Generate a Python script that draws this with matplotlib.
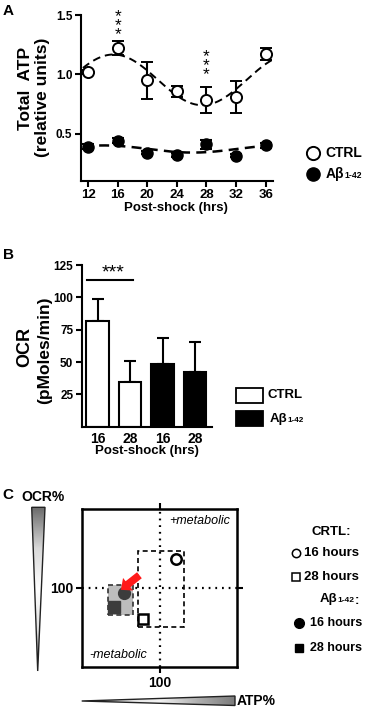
import numpy as np
import matplotlib
matplotlib.use('Agg')
import matplotlib.pyplot as plt
from matplotlib.patches import Rectangle, Polygon
from matplotlib.colors import LinearSegmentedColormap

plt.rcParams['font.family'] = ['Liberation Sans', 'DejaVu Sans']
plt.rcParams['font.weight'] = 'bold'

# ---------------- data ----------------
# Panel A: total ATP (relative units)
hours = [12, 16, 20, 24, 28, 32, 36]
atp_ctrl = [1.02, 1.22, 0.95, 0.855, 0.78, 0.81, 1.17]
atp_ctrl_err = [0.02, 0.06, 0.155, 0.05, 0.11, 0.135, 0.05]
atp_abeta = [0.39, 0.44, 0.34, 0.32, 0.41, 0.315, 0.40]
atp_abeta_err = [0.02, 0.02, 0.015, 0.015, 0.04, 0.015, 0.02]
atp_yticks = [0.5, 1.0, 1.5]
sig_hours_a = [16, 28]
sig_star_top = [1.55, 1.21]
fit_period = 24.0

# Panel B: OCR
ocr_labels = ['16', '28', '16', '28']
ocr_values = [82, 34.5, 48.5, 42.5]
ocr_err = [16.5, 16.5, 20, 23]
ocr_colors = ['white', 'white', 'black', 'black']
ocr_yticks = [25, 50, 75, 100, 125]
ocr_sig_pair = [0, 1]
ocr_sig_level = 113.6

# Panel C: metabolic map (percent of reference)
c_names = ['CTRL 16', 'CTRL 28', 'Ab 16', 'Ab 28']
c_atp = [121, 78, 54, 41]
c_ocr = [137, 61, 93, 76]
c_ctrl_box = [72, 50, 132, 147]   # x0, y0, x1, y1
c_abeta_box = [33, 66, 66, 103]

W, H = 367, 710
fig = plt.figure(figsize=(W / 100, H / 100), dpi=100)


def rect(l, t, r, b):
    return [l / W, 1 - b / H, (r - l) / W, (b - t) / H]


LW = 1.5

# ---------------- Panel A ----------------
axA = fig.add_axes(rect(80.7, 15, 273, 181))
axA.set_xlim(11, 37)
axA.set_ylim(0.1, 1.5)
for s in ['top', 'right']:
    axA.spines[s].set_visible(False)
for s in ['left', 'bottom']:
    axA.spines[s].set_linewidth(LW)
axA.set_xticks(hours)
axA.set_xticklabels([str(h) for h in hours], fontsize=9.5, fontweight='bold')
axA.set_yticks(atp_yticks)
axA.set_yticklabels(['%.1f' % v for v in atp_yticks], fontsize=8.5, fontweight='bold')
axA.tick_params(direction='out', length=4, width=LW, pad=2)


def cosinor(t, y, tt):
    t = np.asarray(t, float)
    X = np.column_stack([np.ones_like(t), np.cos(2 * np.pi * t / fit_period), np.sin(2 * np.pi * t / fit_period)])
    coef, *_ = np.linalg.lstsq(X, np.asarray(y, float), rcond=None)
    XX = np.column_stack([np.ones_like(tt), np.cos(2 * np.pi * tt / fit_period), np.sin(2 * np.pi * tt / fit_period)])
    return XX @ coef


tt = np.linspace(11.3, 37, 300)
axA.plot(tt, cosinor(hours, atp_ctrl, tt), color='black', lw=1.4, ls=(0, (4, 2.5)), zorder=2)
axA.plot(tt, cosinor(hours, atp_abeta, tt), color='black', lw=1.8, ls=(0, (4, 2.5)), zorder=2)

axA.errorbar(hours, atp_ctrl, yerr=atp_ctrl_err, fmt='o', ms=8, mfc='white', mec='black', mew=1.4,
             ecolor='black', elinewidth=1.5, capsize=4.5, capthick=1.5, zorder=3)
axA.errorbar(hours, atp_abeta, yerr=atp_abeta_err, fmt='o', ms=8, mfc='black', mec='black',
             ecolor='black', elinewidth=1.5, capsize=4.5, capthick=1.5, zorder=3)

for h, top in zip(sig_hours_a, sig_star_top):
    axA.text(h, top, '*\n*\n*', ha='center', va='top', fontsize=12.5, fontweight='normal',
             linespacing=0.5)

# ---------------- Panel B ----------------
axB = fig.add_axes(rect(81.7, 265, 212, 426.7))
axB.set_xlim(-0.49, 3.52)
axB.set_ylim(0, 125)
for s in ['top', 'right']:
    axB.spines[s].set_visible(False)
for s in ['left', 'bottom']:
    axB.spines[s].set_linewidth(LW)
xb = np.arange(len(ocr_values))
axB.bar(xb, ocr_values, width=0.69, color=ocr_colors, edgecolor='black', linewidth=LW, zorder=2)
axB.errorbar(xb, ocr_values, yerr=[np.zeros(len(ocr_err)), ocr_err], fmt='none', ecolor='black',
             elinewidth=1.5, capsize=4, capthick=1.5, zorder=1)
axB.set_yticks(ocr_yticks)
axB.set_yticklabels([str(v) for v in ocr_yticks], fontsize=8.5, fontweight='bold')
axB.set_xticks(xb)
axB.set_xticklabels(ocr_labels, fontsize=10, fontweight='bold')
axB.tick_params(axis='y', direction='out', length=4, width=LW, pad=2)
axB.tick_params(axis='x', length=0, pad=4)
axB.set_xlabel('Post-shock (hrs)', fontsize=9.5, fontweight='bold', labelpad=-1)
axB.plot([ocr_sig_pair[0] - 0.34, ocr_sig_pair[1] + 0.1], [ocr_sig_level, ocr_sig_level],
         color='black', lw=LW, clip_on=False)
axB.text(np.mean(ocr_sig_pair) - 0.03, 125.5, '***', ha='center', va='top',
         fontsize=14, fontweight='normal')

# ---------------- Panel C ----------------
axC = fig.add_axes(rect(82.3, 509, 236.7, 666.7))
axC.set_xlim(0, 200)
axC.set_ylim(0, 200)
for s in axC.spines.values():
    s.set_linewidth(1.8)
axC.set_xticks([100])
axC.set_yticks([100])
axC.set_xticklabels(['100'], fontsize=10, fontweight='bold')
axC.set_yticklabels(['100'], fontsize=10, fontweight='bold')
axC.tick_params(direction='out', length=4.5, width=LW, top=True, right=True, pad=2)
axC.axvline(100, color='black', lw=1.6, ls=(0, (0.8, 2.2)), zorder=1)
axC.axhline(100, color='black', lw=1.6, ls=(0, (0.8, 2.2)), zorder=1)

x0, y0, x1, y1 = c_ctrl_box
axC.add_patch(Rectangle((x0, y0), x1 - x0, y1 - y0, fill=False, ec='black', lw=1.2,
                        ls=(0, (3, 2)), zorder=2))
x0, y0, x1, y1 = c_abeta_box
axC.add_patch(Rectangle((x0, y0), x1 - x0, y1 - y0, fc='#bdbdbd', ec='#333333', lw=1.2,
                        ls=(0, (3, 2)), zorder=2))
axC.plot(c_atp[0], c_ocr[0], 'o', ms=7.5, mfc='white', mec='black', mew=1.8, zorder=4)
axC.plot(c_atp[1], c_ocr[1], 's', ms=7, mfc='white', mec='black', mew=1.8, zorder=4)
axC.plot(c_atp[2], c_ocr[2], 'o', ms=8.5, mfc='#3c3c3c', mec='#3c3c3c', zorder=4)
axC.plot(c_atp[3], c_ocr[3], 's', ms=8.5, mfc='#3c3c3c', mec='#3c3c3c', zorder=4)
axC.annotate('', xy=(50, 97.5), xytext=(74, 116),
             arrowprops=dict(arrowstyle='simple,head_length=0.65,head_width=1.15,tail_width=0.55',
                             color='#ff1a1a', lw=0, shrinkA=0, shrinkB=0), zorder=5)
axC.text(152, 185, '+metabolic', ha='center', va='center', fontsize=9, style='italic', fontweight='normal')
axC.text(47, 14.5, '-metabolic', ha='center', va='center', fontsize=9, style='italic', fontweight='normal')

# ---------------- overlay (pixel coords) ----------------
ov = fig.add_axes([0, 0, 1, 1], zorder=10)
ov.set_xlim(0, W)
ov.set_ylim(H, 0)
ov.axis('off')
ov.patch.set_alpha(0)

# panel letters
for lab, (x, y) in zip('ABC', [(8, 11), (8, 255), (8, 495)]):
    ov.text(x, y, lab, ha='center', va='center', fontsize=11, fontweight='bold')

# y labels
ov.text(26, 88, 'Total  ATP', rotation=90, ha='center', va='center', fontsize=12.5, fontweight='bold')
ov.text(43, 97, '(relative units)', rotation=90, ha='center', va='center', fontsize=12.5, fontweight='bold')
ov.text(25, 347, 'OCR', rotation=90, ha='center', va='center', fontsize=13, fontweight='bold')
ov.text(45, 350, '(pMoles/min)', rotation=90, ha='center', va='center', fontsize=12.5, fontweight='bold')
ov.text(176, 208, 'Post-shock (hrs)', ha='center', va='center', fontsize=9.5, fontweight='bold')


def sub_label(x, y, fs, suffix=''):
    t = ov.text(x, y, 'Aβ', ha='left', va='center', fontsize=fs, fontweight='bold')
    t2 = ov.annotate('1-42', xy=(1, 0.05), xycoords=t, ha='left', va='bottom',
                     fontsize=fs * 0.62, fontweight='bold')
    if suffix:
        ov.annotate(suffix, xy=(1, 0.0), xycoords=t2, ha='left', va='bottom',
                    fontsize=fs, fontweight='bold')
    return t


# legend A
ov.plot(313, 152.7, 'o', ms=9.5, mfc='white', mec='black', mew=1.4)
ov.plot(313, 174, 'o', ms=9.5, mfc='black', mec='black')
ov.text(325, 152.7, 'CTRL', ha='left', va='center', fontsize=10, fontweight='bold')
sub_label(326, 174, 10)

# legend B
ov.add_patch(Rectangle((236, 388), 27, 15, fc='white', ec='black', lw=1.3))
ov.add_patch(Rectangle((236, 411), 27, 15, fc='black', ec='black', lw=1.3))
ov.text(268, 395, 'CTRL', ha='left', va='center', fontsize=9.5, fontweight='bold')
sub_label(270, 419, 9.5)

# legend C
ov.text(331, 532, 'CRTL:', ha='center', va='center', fontsize=9.5, fontweight='bold')
ov.plot(296, 552.7, 'o', ms=6, mfc='white', mec='black', mew=1.1)
ov.plot(296, 576.7, 's', ms=5.5, mfc='white', mec='black', mew=1.1)
ov.text(303.5, 552.7, '16 hours', ha='left', va='center', fontsize=9.5, fontweight='bold')
ov.text(303.5, 576.7, '28 hours', ha='left', va='center', fontsize=9.5, fontweight='bold')
t = ov.text(320, 599, 'Aβ', ha='left', va='center', fontsize=9.5, fontweight='bold')
t2 = ov.annotate('1-42', xy=(1, 0.05), xycoords=t, ha='left', va='bottom', fontsize=6, fontweight='bold')
ov.annotate(':', xy=(1, -0.3), xycoords=t2, ha='left', va='bottom', fontsize=9.5, fontweight='bold')
ov.plot(299, 623, 'o', ms=7, mfc='black', mec='black')
ov.plot(299, 647.7, 's', ms=6, mfc='black', mec='black')
ov.text(310.5, 623, '16 hours', ha='left', va='center', fontsize=9, fontweight='bold')
ov.text(310.5, 647.7, '28 hours', ha='left', va='center', fontsize=9, fontweight='bold')

# C axis labels and gradient wedges
ov.text(42.5, 497, 'OCR%', ha='center', va='center', fontsize=10, fontweight='bold')
ov.text(237, 701, 'ATP%', ha='left', va='center', fontsize=10, fontweight='bold')


def grad_wedge(verts, stops, vertical):
    xs = [v[0] for v in verts]
    ys = [v[1] for v in verts]
    cmap = LinearSegmentedColormap.from_list('w', stops)
    g = np.linspace(0, 1, 256)
    img = g[:, None] if vertical else g[None, :]
    im = ov.imshow(img, cmap=cmap, extent=(min(xs), max(xs), max(ys), min(ys)), origin='upper',
                   aspect='auto', interpolation='bilinear', zorder=1)
    poly = Polygon(verts, closed=True, fc='none', ec='#222222', lw=1.0, zorder=2)
    ov.add_patch(poly)
    im.set_clip_path(poly)


grad_wedge([(31.7, 507.3), (45, 507.3), (37.7, 671)],
           ['#6a6a6a', '#d8d8d8', '#ffffff', '#e0e0e0', '#7a7a7a'], True)
grad_wedge([(81.7, 701), (235, 696), (235, 705.5)],
           ['#333333', '#dddddd', '#f4f4f4', '#b0b0b0', '#7a7a7a'], False)
ov.set_xlim(0, W)
ov.set_ylim(H, 0)

fig.savefig('out.png', dpi=100)
